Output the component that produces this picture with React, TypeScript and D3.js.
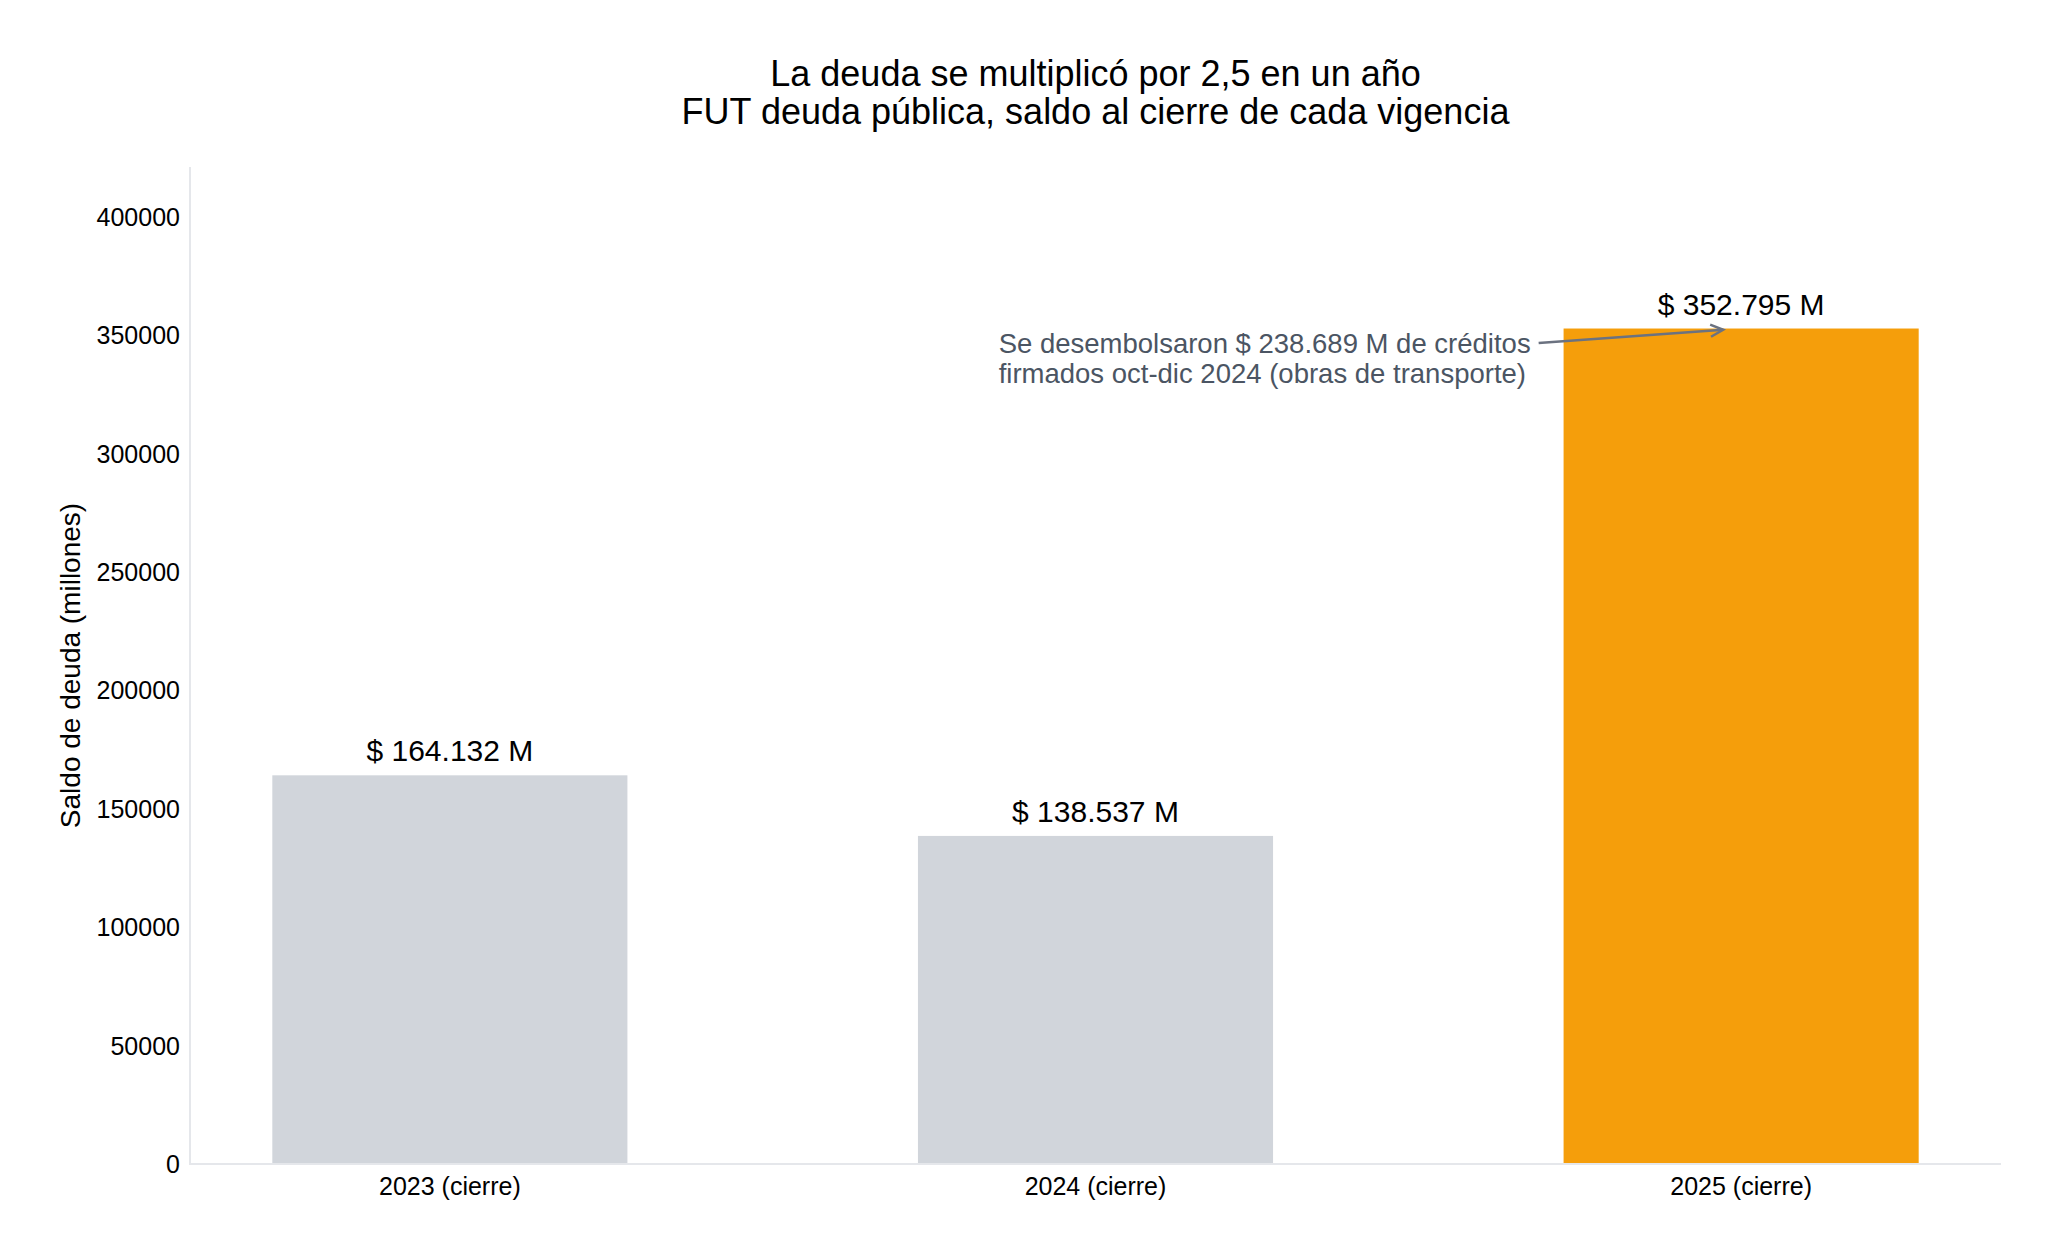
import React, { useEffect, useLayoutEffect, useRef, useState } from "react";
import * as d3 from "d3";

const categories = ["2023 (cierre)", "2024 (cierre)", "2025 (cierre)"];
const saldos = [164132, 138537, 352795];
const valueLabels = ["$ 164.132 M", "$ 138.537 M", "$ 352.795 M"];
const barColors = ["#d1d5db", "#d1d5db", "#f59e0b"];
const titleLines = ["La deuda se multiplicó por 2,5 en un año", "FUT deuda pública, saldo al cierre de cada vigencia"];
const annotationLines = ["Se desembolsaron $ 238.689 M de créditos", "firmados oct-dic 2024 (obras de transporte)"];
const annotationAt = { x: 0.85, y: 342500 }; // data position of first line (left, baseline)
const yTop = 421000;

const W = 2059;
const H = 1258;
const plot = { left: 190, right: 2001, top: 167, bottom: 1164 };
const FONT = "'Liberation Sans', Arial, Helvetica, sans-serif";

export default function App() {
	const annRef = useRef<SVGTextElement>(null);
	const [annWidth, setAnnWidth] = useState(535);

	useEffect(() => {
		document.body.style.margin = "0";
	}, []);

	useLayoutEffect(() => {
		const t = annRef.current?.querySelector("tspan");
		if (t) setAnnWidth((t as SVGTextContentElement).getComputedTextLength());
	}, []);

	const barWidth = 0.55;
	const x = d3
		.scaleLinear()
		.domain([-barWidth / 2 - (2 + barWidth) * 0.05, categories.length - 1 + barWidth / 2 + (2 + barWidth) * 0.05])
		.range([plot.left, plot.right]);
	const y = d3.scaleLinear().domain([0, yTop]).range([plot.bottom, plot.top]);
	const yTicks = y.ticks(10);
	const bw = x(barWidth) - x(0);
	const cx = (plot.left + plot.right) / 2;

	// annotation arrow
	const ax = x(annotationAt.x);
	const ay = y(annotationAt.y);
	const sx = ax + annWidth + 8;
	const sy = ay - 10;
	const tx = x(2);
	const ty = y(saldos[2]);
	const len = Math.hypot(tx - sx, ty - sy);
	const ux = (tx - sx) / len;
	const uy = (ty - sy) / len;
	const ex = tx - ux * 18;
	const ey = ty - uy * 18;
	const head = 14;
	const ang = Math.PI / 7;
	const rot = (a: number) => [
		ex - head * (ux * Math.cos(a) - uy * Math.sin(a)),
		ey - head * (ux * Math.sin(a) + uy * Math.cos(a)),
	];
	const h1 = rot(ang);
	const h2 = rot(-ang);

	return (
		<svg width={W} height={H} style={{ display: "block", background: "#fff" }} fontFamily={FONT}>
			{/* title */}
			<text x={cx} y={86} textAnchor="middle" fontSize={36} fill="#000">
				{titleLines[0]}
			</text>
			<text x={cx} y={124} textAnchor="middle" fontSize={36} fill="#000">
				{titleLines[1]}
			</text>

			{/* bars */}
			{saldos.map((v, i) => (
				<rect key={i} x={x(i) - bw / 2} y={y(v)} width={bw} height={y(0) - y(v)} fill={barColors[i]} />
			))}

			{/* spines */}
			<line x1={plot.left} x2={plot.left} y1={plot.top} y2={plot.bottom + 1} stroke="#e5e7eb" strokeWidth={2} />
			<line x1={plot.left} x2={plot.right} y1={plot.bottom} y2={plot.bottom} stroke="#e5e7eb" strokeWidth={2} />

			{/* y ticks */}
			{yTicks.map((t) => (
				<text key={t} x={plot.left - 10} y={y(t)} dy="0.36em" textAnchor="end" fontSize={25} fill="#000">
					{d3.format("d")(t)}
				</text>
			))}

			{/* x ticks */}
			{categories.map((c, i) => (
				<text key={c} x={x(i)} y={plot.bottom + 31} textAnchor="middle" fontSize={25} fill="#000">
					{c}
				</text>
			))}

			{/* y label */}
			<text
				transform={`translate(80, ${(plot.top + plot.bottom) / 2}) rotate(-90)`}
				textAnchor="middle"
				fontSize={28}
				fill="#000"
			>
				Saldo de deuda (millones)
			</text>

			{/* value labels */}
			{saldos.map((v, i) => (
				<text key={i} x={x(i)} y={y(v) - 14} textAnchor="middle" fontSize={30} fill="#000">
					{valueLabels[i]}
				</text>
			))}

			{/* annotation */}
			<text ref={annRef} x={ax} y={ay} fontSize={27.5} fill="#4b5563">
				{annotationLines.map((l, i) => (
					<tspan key={i} x={ax} dy={i === 0 ? 0 : 30}>
						{l}
					</tspan>
				))}
			</text>
			<line x1={sx} y1={sy} x2={ex} y2={ey} stroke="#6b7280" strokeWidth={2.5} />
			<path
				d={`M${h1[0]},${h1[1]} L${ex},${ey} L${h2[0]},${h2[1]}`}
				fill="none"
				stroke="#6b7280"
				strokeWidth={2.5}
			/>
		</svg>
	);
}
